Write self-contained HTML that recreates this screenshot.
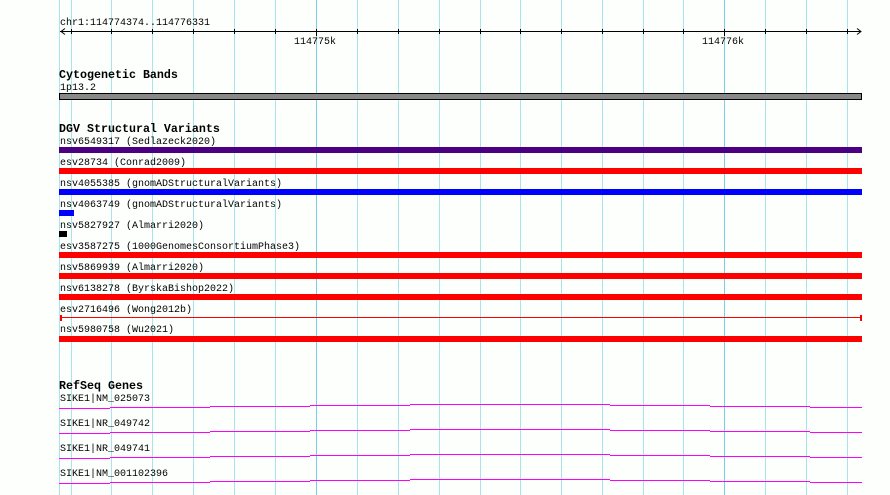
<!DOCTYPE html>
<html><head><style>
body{margin:0;background:#fdfffd;}
svg{display:block}
text{font-family:"Liberation Mono","DejaVu Sans Mono",monospace;font-size:10px;fill:#000}
.b{font-weight:bold;font-size:11.67px}
</style></head><body>
<svg width="890" height="495" viewBox="0 0 890 495">
<g stroke="#a8e4ec" stroke-width="1">
<line x1="59.5" y1="0" x2="59.5" y2="495"/>
<line x1="71.5" y1="0" x2="71.5" y2="495"/><line x1="111.5" y1="0" x2="111.5" y2="495"/><line x1="152.5" y1="0" x2="152.5" y2="495"/><line x1="193.5" y1="0" x2="193.5" y2="495"/><line x1="234.5" y1="0" x2="234.5" y2="495"/><line x1="275.5" y1="0" x2="275.5" y2="495"/>
<line x1="357.5" y1="0" x2="357.5" y2="495"/><line x1="398.5" y1="0" x2="398.5" y2="495"/><line x1="439.5" y1="0" x2="439.5" y2="495"/><line x1="480.5" y1="0" x2="480.5" y2="495"/><line x1="520.5" y1="0" x2="520.5" y2="495"/><line x1="561.5" y1="0" x2="561.5" y2="495"/><line x1="602.5" y1="0" x2="602.5" y2="495"/><line x1="643.5" y1="0" x2="643.5" y2="495"/><line x1="683.5" y1="0" x2="683.5" y2="495"/>
<line x1="765.5" y1="0" x2="765.5" y2="495"/><line x1="806.5" y1="0" x2="806.5" y2="495"/><line x1="847.5" y1="0" x2="847.5" y2="495"/>
</g>
<g stroke="#7ccbe8"><line x1="316.5" y1="0" x2="316.5" y2="495"/><line x1="724.5" y1="0" x2="724.5" y2="495"/></g>
<text x="60" y="25">chr1:114774374..114776331</text>
<line x1="60" y1="31.5" x2="861" y2="31.5" stroke="#000"/>
<path d="M65 28.5 L61 31.5 L65 34.5 M857 28.5 L861 31.5 L857 34.5" stroke="#000" fill="none"/>
<g stroke="#000">
<line x1="71.5" y1="29" x2="71.5" y2="34"/><line x1="111.5" y1="29" x2="111.5" y2="34"/><line x1="152.5" y1="29" x2="152.5" y2="34"/><line x1="193.5" y1="29" x2="193.5" y2="34"/><line x1="234.5" y1="29" x2="234.5" y2="34"/><line x1="275.5" y1="29" x2="275.5" y2="34"/><line x1="316.5" y1="29" x2="316.5" y2="36"/><line x1="357.5" y1="29" x2="357.5" y2="34"/><line x1="398.5" y1="29" x2="398.5" y2="34"/><line x1="439.5" y1="29" x2="439.5" y2="34"/><line x1="480.5" y1="29" x2="480.5" y2="34"/><line x1="520.5" y1="29" x2="520.5" y2="34"/><line x1="561.5" y1="29" x2="561.5" y2="34"/><line x1="602.5" y1="29" x2="602.5" y2="34"/><line x1="643.5" y1="29" x2="643.5" y2="34"/><line x1="683.5" y1="29" x2="683.5" y2="34"/><line x1="724.5" y1="29" x2="724.5" y2="36"/><line x1="765.5" y1="29" x2="765.5" y2="34"/><line x1="806.5" y1="29" x2="806.5" y2="34"/><line x1="847.5" y1="29" x2="847.5" y2="34"/>
</g>
<text x="294" y="44">114775k</text>
<text x="702" y="44">114776k</text>
<text class="b" x="59" y="78">Cytogenetic Bands</text>
<text x="60" y="90">1p13.2</text>
<rect x="59.5" y="93.5" width="802" height="6" fill="#888" stroke="#000"/>
<text class="b" x="59" y="132">DGV Structural Variants</text>
<text x="60" y="144">nsv6549317 (Sedlazeck2020)</text>
<rect x="59" y="147" width="803" height="6" fill="#4b0082"/>
<text x="60" y="165">esv28734 (Conrad2009)</text>
<rect x="59" y="168" width="803" height="6" fill="#f00"/>
<text x="60" y="186">nsv4055385 (gnomADStructuralVariants)</text>
<rect x="59" y="189" width="803" height="6" fill="#00f"/>
<text x="60" y="207">nsv4063749 (gnomADStructuralVariants)</text>
<rect x="59" y="210" width="15" height="6" fill="#00f"/>
<text x="60" y="228">nsv5827927 (Almarri2020)</text>
<rect x="59" y="231" width="8" height="6" fill="#000"/>
<text x="60" y="249">esv3587275 (1000GenomesConsortiumPhase3)</text>
<rect x="59" y="252" width="803" height="6" fill="#f00"/>
<text x="60" y="270">nsv5869939 (Almarri2020)</text>
<rect x="59" y="273" width="803" height="6" fill="#f00"/>
<text x="60" y="291">nsv6138278 (ByrskaBishop2022)</text>
<rect x="59" y="294" width="803" height="6" fill="#f00"/>
<text x="60" y="312">esv2716496 (Wong2012b)</text>
<line x1="60" y1="317.5" x2="862" y2="317.5" stroke="#f00"/>
<rect x="60" y="315" width="2" height="6" fill="#f00"/><rect x="860" y="315" width="2" height="6" fill="#f00"/>
<text x="60" y="332">nsv5980758 (Wu2021)</text>
<rect x="59" y="336" width="803" height="6" fill="#f00"/>
<text class="b" x="59" y="389">RefSeq Genes</text>
<text x="60" y="401">SIKE1|NM_025073</text>
<text x="60" y="426">SIKE1|NR_049742</text>
<text x="60" y="451">SIKE1|NR_049741</text>
<text x="60" y="476">SIKE1|NM_001102396</text>
<g stroke="#f0f" fill="none">
<path d="M59 408.5H110M110 407.5H210M210 406.5H310M310 405.5H410M410 404.5H510M510 404.5H610M610 405.5H710M710 406.5H810M810 407.5H862"/>
<path d="M59 433.5H110M110 432.5H210M210 431.5H310M310 430.5H410M410 429.5H510M510 429.5H610M610 430.5H710M710 431.5H810M810 432.5H862"/>
<path d="M59 458.5H110M110 457.5H210M210 456.5H310M310 455.5H410M410 454.5H510M510 454.5H610M610 455.5H710M710 456.5H810M810 457.5H862"/>
<path d="M59 483.5H110M110 482.5H210M210 481.5H310M310 480.5H410M410 479.5H510M510 479.5H610M610 480.5H710M710 481.5H810M810 482.5H862"/>
</g>
</svg>
</body></html>
